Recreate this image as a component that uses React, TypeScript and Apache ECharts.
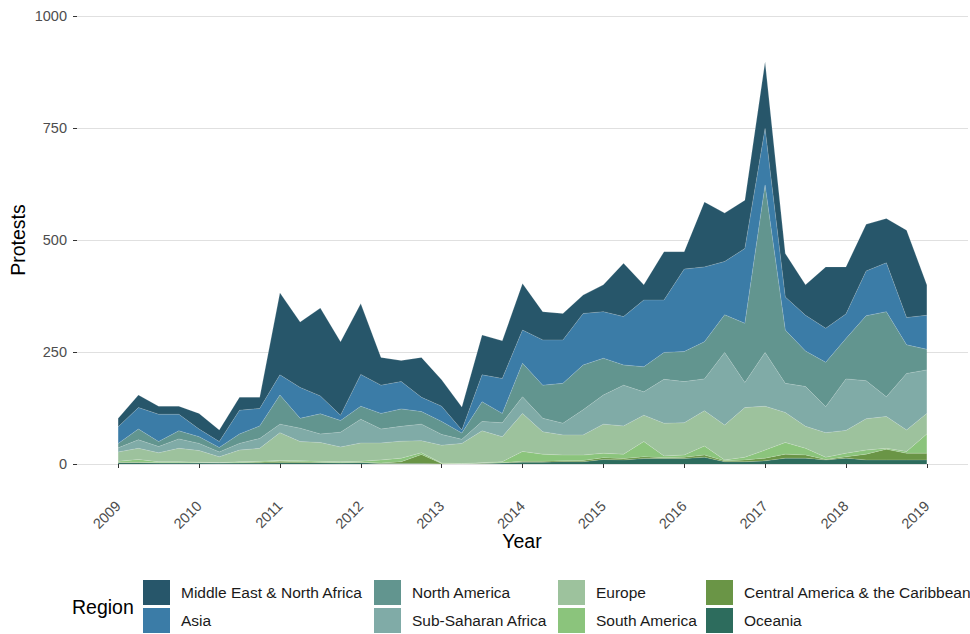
import React, { useEffect, useRef } from "react";
import * as echarts from "echarts";

const quarters = [
  "2009", "2009.25", "2009.5", "2009.75", "2010", "2010.25", "2010.5", "2010.75",
  "2011", "2011.25", "2011.5", "2011.75", "2012", "2012.25", "2012.5", "2012.75",
  "2013", "2013.25", "2013.5", "2013.75", "2014", "2014.25", "2014.5", "2014.75",
  "2015", "2015.25", "2015.5", "2015.75", "2016", "2016.25", "2016.5", "2016.75",
  "2017", "2017.25", "2017.5", "2017.75", "2018", "2018.25", "2018.5", "2018.75", "2019",
];

const oceania = [3, 3, 2, 2, 2, 2, 2, 2, 3, 3, 3, 2, 3, 1, 1, 1, 0, 0, 1, 2, 4, 4, 5, 5, 10, 9, 12, 12, 12, 15, 5, 5, 7, 13, 13, 9, 13, 9, 9, 9, 9];
const centralAmerica = [1, 1, 1, 1, 1, 0, 1, 2, 3, 2, 1, 1, 1, 1, 4, 20, 1, 0, 1, 1, 2, 2, 2, 3, 4, 3, 4, 2, 3, 5, 2, 4, 6, 9, 7, 1, 3, 13, 24, 15, 15];
const southAmerica = [2, 6, 2, 2, 1, 1, 2, 2, 2, 2, 2, 2, 2, 7, 8, 4, 1, 1, 1, 2, 22, 16, 13, 12, 10, 10, 34, 4, 5, 20, 2, 6, 18, 26, 15, 5, 8, 9, 2, 4, 43];
const europe = [21, 25, 20, 30, 26, 13, 26, 29, 62, 43, 42, 33, 41, 38, 38, 27, 40, 45, 71, 56, 85, 50, 45, 45, 65, 63, 59, 73, 72, 79, 78, 111, 98, 67, 49, 55, 51, 70, 71, 48, 46];
const subSaharan = [9, 19, 14, 21, 16, 11, 15, 22, 19, 30, 19, 33, 53, 31, 33, 37, 24, 9, 21, 31, 37, 30, 26, 56, 65, 91, 52, 98, 92, 71, 162, 56, 120, 65, 89, 58, 115, 85, 44, 126, 97];
const northAmerica = [10, 24, 11, 18, 15, 10, 21, 28, 65, 22, 45, 26, 29, 35, 39, 28, 29, 14, 44, 21, 75, 74, 89, 100, 82, 45, 56, 60, 67, 83, 84, 132, 374, 119, 79, 99, 90, 145, 190, 64, 46];
const asia = [37, 48, 61, 37, 17, 13, 53, 39, 45, 69, 40, 12, 71, 63, 61, 32, 34, 7, 60, 78, 74, 101, 97, 115, 104, 108, 149, 117, 184, 167, 119, 167, 126, 74, 80, 76, 55, 100, 109, 61, 76];
const middleEast = [19, 28, 18, 18, 35, 26, 29, 25, 183, 146, 196, 164, 158, 62, 47, 89, 59, 51, 89, 84, 104, 63, 59, 41, 60, 119, 34, 108, 39, 145, 108, 108, 149, 97, 68, 137, 105, 104, 99, 195, 68];

// bottom-to-top stacking order
const regions = [
  { name: "Oceania", color: "#2d6c5d", values: oceania },
  { name: "Central America & the Caribbean", color: "#6a9546", values: centralAmerica },
  { name: "South America", color: "#8bc47c", values: southAmerica },
  { name: "Europe", color: "#9dc29d", values: europe },
  { name: "Sub-Saharan Africa", color: "#80aba7", values: subSaharan },
  { name: "North America", color: "#62958f", values: northAmerica },
  { name: "Asia", color: "#3b7ca7", values: asia },
  { name: "Middle East & North Africa", color: "#27566a", values: middleEast },
];

const legendColumns = [
  { left: 143, items: ["Middle East & North Africa", "Asia"] },
  { left: 374, items: ["North America", "Sub-Saharan Africa"] },
  { left: 558, items: ["Europe", "South America"] },
  { left: 706, items: ["Central America & the Caribbean", "Oceania"] },
];

const FONT = "'Liberation Sans', Arial, Helvetica, sans-serif";

export default function App() {
  const ref = useRef<HTMLDivElement>(null);

  useEffect(() => {
    if (!ref.current) return;
    const chart = echarts.init(ref.current, undefined, { renderer: "svg" });

    const series = regions.map((r) => ({
      name: r.name,
      type: "line",
      stack: "total",
      xAxisIndex: 0,
      yAxisIndex: 0,
      showSymbol: false,
      symbol: "none",
      smooth: false,
      lineStyle: { width: 0.8, color: "rgba(255,255,255,0.22)" },
      itemStyle: { color: r.color },
      areaStyle: { color: r.color, opacity: 1 },
      emphasis: { disabled: true },
      data: r.values,
    }));

    chart.setOption({
      animation: false,
      backgroundColor: "#ffffff",
      textStyle: { fontFamily: FONT },
      grid: [
        { left: 118.2, right: 43.2, top: 16, bottom: 170 },
        { left: 77, right: 2, top: 16, bottom: 170 },
      ],
      xAxis: [
        {
          type: "category",
          gridIndex: 0,
          data: quarters,
          boundaryGap: false,
          offset: 22.5,
          axisLine: { show: false },
          axisTick: { show: true, interval: 3, length: 4, lineStyle: { color: "#333333", width: 1 } },
          axisLabel: {
            interval: 3,
            rotate: 45,
            margin: 17,
            color: "#4d4d4d",
            fontSize: 14.5,
            fontFamily: FONT,
            formatter: (v: string) => String(Math.floor(Number(v))),
          },
          splitLine: { show: false },
        },
        { type: "value", gridIndex: 1, min: 0, max: 1, show: false },
      ],
      yAxis: [
        { type: "value", gridIndex: 0, min: 0, max: 1000, show: false },
        {
          type: "value",
          gridIndex: 1,
          min: 0,
          max: 1000,
          interval: 250,
          axisLine: { show: false },
          axisTick: { show: true, length: 4, lineStyle: { color: "#333333", width: 1 } },
          axisLabel: {
            margin: 10,
            color: "#4d4d4d",
            fontSize: 14.5,
            fontFamily: FONT,
            formatter: (v: number) => String(v),
          },
          splitLine: { show: true, lineStyle: { color: "#e0e0e0", width: 1.2 } },
        },
      ],
      legend: legendColumns.map((c) => ({
        data: c.items,
        orient: "vertical",
        left: c.left,
        top: 580,
        itemWidth: 27,
        itemHeight: 25,
        itemGap: 3,
        icon: "rect",
        selectedMode: false,
        padding: 0,
        textStyle: { fontSize: 15.5, color: "#1a1a1a", fontFamily: FONT, padding: [0, 0, 0, 6] },
      })),
      graphic: [
        {
          type: "text",
          x: 522,
          y: 541,
          style: { text: "Year", fontSize: 19.5, fill: "#000", fontFamily: FONT, textAlign: "center", textVerticalAlign: "middle" },
        },
        {
          type: "text",
          x: 18,
          y: 240,
          rotation: Math.PI / 2,
          style: { text: "Protests", fontSize: 19.5, fill: "#000", fontFamily: FONT, textAlign: "center", textVerticalAlign: "middle" },
        },
        {
          type: "text",
          x: 72,
          y: 607,
          style: { text: "Region", fontSize: 19.5, fill: "#000", fontFamily: FONT, textAlign: "left", textVerticalAlign: "middle" },
        },
      ],
      series,
    });

    return () => chart.dispose();
  }, []);

  return <div ref={ref} style={{ width: 970, height: 634, position: "absolute", left: 0, top: 0 }} />;
}
